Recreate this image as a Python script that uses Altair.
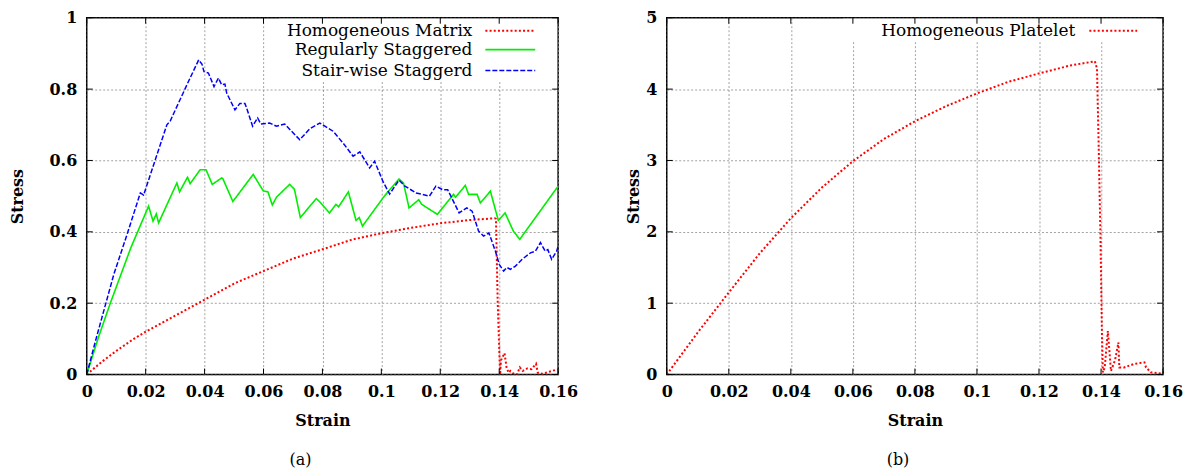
import altair as alt
import pandas as pd

FONT = "DejaVu Serif"

# ---------------- data ----------------
series_left = ["Homogeneous Matrix", "Regularly Staggered", "Stair-wise Staggerd"]
series_right = ["Homogeneous Platelet"]
colors_left = ["#ff0000", "#00ee00", "#0000ff"]
color_right = "#ff0000"

matrix_strain = [0, 0.005, 0.01, 0.016, 0.02, 0.03, 0.04, 0.05, 0.06, 0.07, 0.08, 0.09, 0.10,
                 0.11, 0.12, 0.13, 0.1385, 0.1389, 0.1395, 0.1403, 0.1406, 0.1418, 0.1425,
                 0.1432, 0.1438, 0.1448, 0.146, 0.147, 0.148, 0.1495, 0.151, 0.1525, 0.1531,
                 0.1547, 0.157, 0.16]
matrix_stress = [0, 0.035, 0.066, 0.100, 0.120, 0.165, 0.210, 0.255, 0.290, 0.325, 0.351, 0.378,
                 0.396, 0.411, 0.424, 0.433, 0.438, 0.436, 0.20, 0.0, 0.04, 0.06, 0.02,
                 0.005, 0.01, 0.003, 0.0, 0.02, 0.01, 0.017, 0.015, 0.03, 0.005,
                 0.002, 0.008, 0.015]

regular_strain = [0, 0.004, 0.008, 0.015, 0.021, 0.0225, 0.0236, 0.0244, 0.0306, 0.0315, 0.0342,
                  0.0351, 0.0385, 0.0405, 0.0426, 0.0458, 0.0462, 0.0496, 0.0565, 0.0599, 0.0615,
                  0.063, 0.0644, 0.0689, 0.0705, 0.0725, 0.0779, 0.0790, 0.081, 0.0824, 0.0846,
                  0.0855, 0.0888, 0.0914, 0.0925, 0.0936, 0.101, 0.106, 0.1075, 0.1094, 0.1127,
                  0.1137, 0.119, 0.1245, 0.1252, 0.1285, 0.1296, 0.1325, 0.1336, 0.137, 0.1397,
                  0.142, 0.1448, 0.147, 0.1482, 0.16]
regular_stress = [0, 0.105, 0.200, 0.356, 0.472, 0.43, 0.45, 0.425, 0.537, 0.512, 0.553,
                  0.535, 0.574, 0.574, 0.533, 0.551, 0.549, 0.485, 0.561, 0.515, 0.512,
                  0.475, 0.497, 0.533, 0.519, 0.44, 0.493, 0.485, 0.466, 0.453, 0.477,
                  0.47, 0.512, 0.432, 0.44, 0.416, 0.5, 0.548, 0.537, 0.467, 0.49,
                  0.477, 0.449, 0.505, 0.497, 0.53, 0.505, 0.505, 0.481, 0.514, 0.432,
                  0.453, 0.402, 0.379, 0.393, 0.528]

stair_strain = [0, 0.003, 0.0092, 0.0137, 0.0182, 0.0193, 0.0272, 0.0283, 0.034, 0.038, 0.0391,
                0.0398, 0.0413, 0.0432, 0.0447, 0.0458, 0.0469, 0.0475, 0.0503, 0.052, 0.0537,
                0.0543, 0.0563, 0.058, 0.0591, 0.0621, 0.0644, 0.0672, 0.0723, 0.0757, 0.0791,
                0.0836, 0.087, 0.0904, 0.0927, 0.096, 0.0977, 0.1005, 0.1028, 0.106, 0.108,
                0.1118, 0.1163, 0.1185, 0.1208, 0.1225, 0.1236, 0.1264, 0.129, 0.1308, 0.133,
                0.1347, 0.1365, 0.1387, 0.140, 0.1415, 0.1426, 0.1438, 0.1455, 0.1478, 0.1506,
                0.1523, 0.154, 0.1556, 0.1565, 0.1578, 0.1595, 0.16]
stair_stress = [0, 0.095, 0.281, 0.393, 0.509, 0.503, 0.70, 0.71, 0.812, 0.882, 0.87,
                0.849, 0.845, 0.807, 0.831, 0.812, 0.814, 0.789, 0.742, 0.76, 0.76,
                0.746, 0.696, 0.719, 0.702, 0.705, 0.696, 0.702, 0.658, 0.689, 0.705,
                0.682, 0.649, 0.612, 0.624, 0.579, 0.598, 0.542, 0.506, 0.545, 0.528,
                0.509, 0.50, 0.528, 0.518, 0.518, 0.50, 0.453, 0.467, 0.458, 0.402,
                0.388, 0.397, 0.346, 0.309, 0.29, 0.30, 0.295, 0.304, 0.323, 0.341,
                0.346, 0.37, 0.346, 0.35, 0.323, 0.346, 0.36]

platelet_strain = [0, 0.01, 0.02, 0.03, 0.04, 0.05, 0.06, 0.07, 0.08, 0.09, 0.10, 0.11, 0.12,
                   0.13, 0.138, 0.1387, 0.1393, 0.1398, 0.1403, 0.1406, 0.1412, 0.1422, 0.1432,
                   0.1445, 0.1456, 0.1459, 0.1475, 0.1508, 0.154, 0.1545, 0.1561, 0.16]
platelet_stress = [0, 0.59, 1.15, 1.70, 2.19, 2.62, 2.99, 3.30, 3.55, 3.76, 3.94, 4.10, 4.22,
                   4.33, 4.39, 4.29, 3.08, 1.97, 0.57, 0.03, 0.10, 0.61, 0.05,
                   0.20, 0.45, 0.10, 0.10, 0.15, 0.17, 0.10, 0.03, 0.01]

x_ticks = [0, 0.02, 0.04, 0.06, 0.08, 0.10, 0.12, 0.14, 0.16]
y_ticks_left = [0, 0.2, 0.4, 0.6, 0.8, 1.0]
y_ticks_right = [0, 1, 2, 3, 4, 5]
captions = ["(a)", "(b)"]

# ---------------- layout constants ----------------
W_L, W_R, H = 473, 498, 358
TICK = 6
dash_styles = [[2, 2.2], [1, 0], [5, 2]]
widths = [2, 1.6, 1.5]


def df_of(s, v):
    return pd.DataFrame({"strain": s, "stress": v, "i": list(range(len(s)))})


def xenc():
    return alt.X("strain:Q", title="Strain",
                 scale=alt.Scale(domain=[0, 0.16], nice=False),
                 axis=alt.Axis(values=x_ticks, format="~g", labelPadding=9,
                               titlePadding=13, labelFlush=False))


def yenc(dom, ticks, tpad):
    return alt.Y("stress:Q", title="Stress",
                 scale=alt.Scale(domain=dom, nice=False),
                 axis=alt.Axis(values=ticks, format="~g", labelPadding=10,
                               titlePadding=tpad, labelFlush=False))


def line(df, color, dash, sw, dom, ticks, tpad):
    return alt.Chart(df).mark_line(color=color, strokeDash=dash, strokeWidth=sw,
                                   clip=True).encode(
        x=xenc(), y=yenc(dom, ticks, tpad), order="i:Q")


def tick_layers(w, dom, yticks, tpad):
    xt = pd.DataFrame({"strain": x_ticks})
    yt = pd.DataFrame({"stress": yticks})
    base_x = alt.Chart(xt).mark_rule(color="black", strokeWidth=1)
    base_y = alt.Chart(yt).mark_rule(color="black", strokeWidth=1)
    return [
        base_x.encode(x=xenc(), y=alt.value(H), y2=alt.value(H - TICK)),
        base_x.encode(x=xenc(), y=alt.value(0), y2=alt.value(TICK)),
        base_y.encode(y=yenc(dom, yticks, tpad), x=alt.value(0), x2=alt.value(TICK)),
        base_y.encode(y=yenc(dom, yticks, tpad), x=alt.value(w), x2=alt.value(w - TICK)),
    ]


def legend_layers(x_box, w, box_h, text_right, line_x1, line_x2, rows, names, colors, dashes, sws):
    layers = [alt.Chart(pd.DataFrame({"a": [0]})).mark_rect(color="white").encode(
        x=alt.value(x_box), x2=alt.value(w - 1), y=alt.value(1), y2=alt.value(box_h))]
    for yy, nm, c, d, sw in zip(rows, names, colors, dashes, sws):
        layers.append(alt.Chart(pd.DataFrame({"a": [0]})).mark_text(
            align="right", baseline="middle", font=FONT, fontSize=17, color="black").encode(
            x=alt.value(text_right), y=alt.value(yy), text=alt.value(nm)))
        layers.append(alt.Chart(pd.DataFrame({"a": [0]})).mark_rule(
            color=c, strokeDash=d, strokeWidth=sw).encode(
            x=alt.value(line_x1), x2=alt.value(line_x2), y=alt.value(yy)))
    return layers


# ---------------- left panel ----------------
left_lines = [
    line(df_of(matrix_strain, matrix_stress), colors_left[0], dash_styles[0], widths[0], [0, 1], y_ticks_left, 24),
    line(df_of(regular_strain, regular_stress), colors_left[1], dash_styles[1], widths[1], [0, 1], y_ticks_left, 24),
    line(df_of(stair_strain, stair_stress), colors_left[2], dash_styles[2], widths[2], [0, 1], y_ticks_left, 24),
]
left = alt.layer(
    *left_lines,
    *legend_layers(193, W_L, 63, 387, 400, 450, [13, 32, 53], series_left, colors_left,
                   dash_styles, widths),
    *tick_layers(W_L, [0, 1], y_ticks_left, 24),
).properties(width=W_L, height=H,
             title=alt.TitleParams(captions[0], orient="bottom", font=FONT, fontSize=16,
                                   fontWeight="normal", offset=24, dx=-22, color="black"))

# ---------------- right panel ----------------
right = alt.layer(
    line(df_of(platelet_strain, platelet_stress), color_right, dash_styles[0], widths[0], [0, 5], y_ticks_right, 4),
    *legend_layers(177, W_R, 23, 410, 424, 472, [13], series_right, [color_right],
                   [dash_styles[0]], [widths[0]]),
    *tick_layers(W_R, [0, 5], y_ticks_right, 4),
).properties(width=W_R, height=H,
             title=alt.TitleParams(captions[1], orient="bottom", font=FONT, fontSize=16,
                                   fontWeight="normal", offset=24, dx=-17, color="black"))

chart = alt.hconcat(left, right, spacing=46).properties(
    padding={"left": 0, "top": 0, "right": 0, "bottom": 0}
).configure_view(stroke="black", strokeWidth=1.5).configure_axis(
    grid=True, gridColor="#8a8a8a", gridDash=[2, 2], gridWidth=0.8,
    domain=False, ticks=False, tickSize=0,
    labelFont=FONT, labelFontSize=16, labelFontWeight="bold", labelColor="black",
    titleFont=FONT, titleFontSize=16, titleFontWeight="bold", titleColor="black",
)

chart.save("out.html", embed_options={"renderer": "svg", "actions": False})
